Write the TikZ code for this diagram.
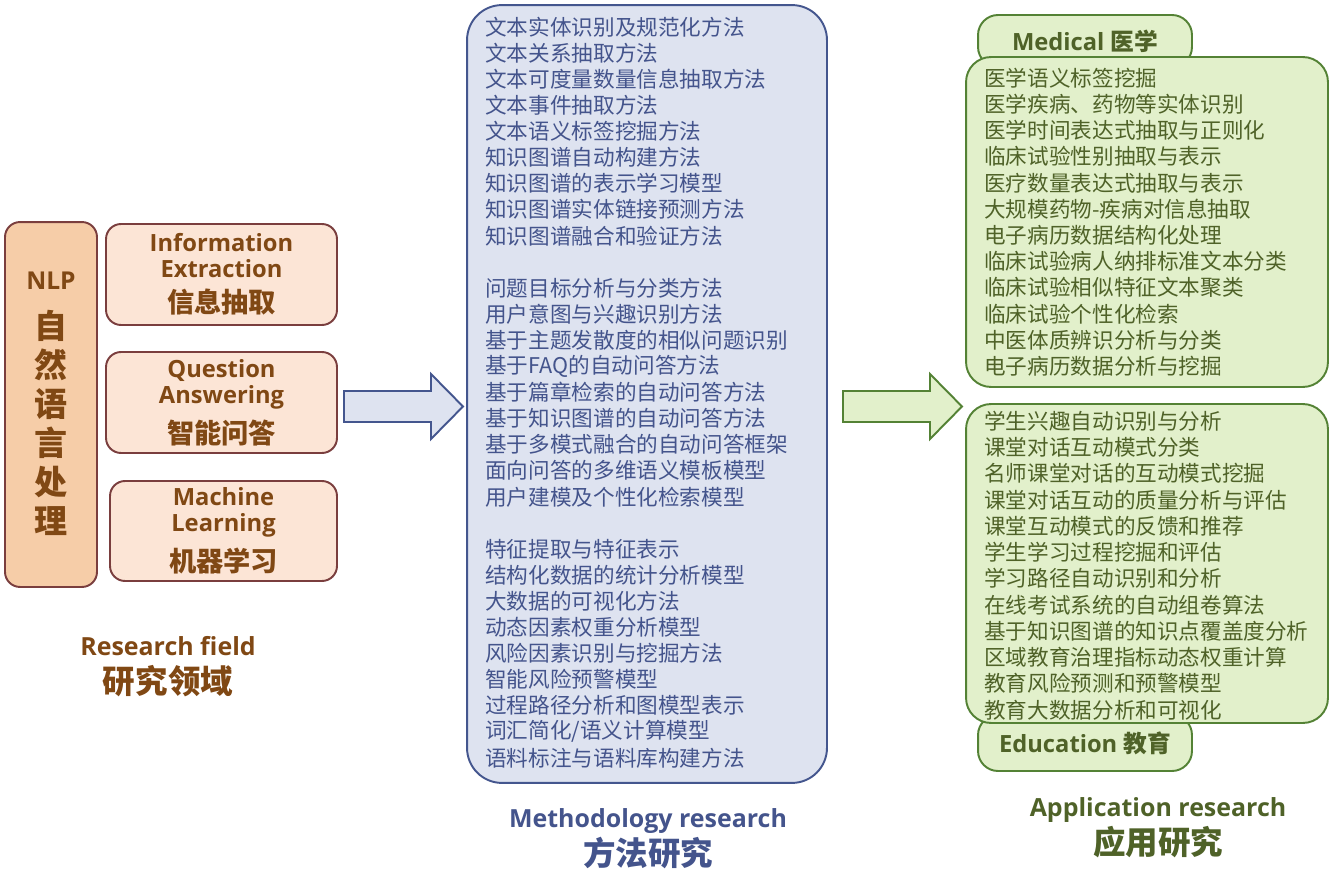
\documentclass[tikz,border=0pt]{standalone}
\usepackage{fontspec}
\setmainfont{Open Sans}
\newfontfamily\cjk{Noto Sans CJK SC}
\definecolor{fieldfill}{RGB}{252,229,214}
\definecolor{nlpfill}{RGB}{246,205,168}
\definecolor{fieldline}{RGB}{122,62,62}
\definecolor{fieldtext}{RGB}{128,72,20}
\definecolor{methodfill}{RGB}{222,227,240}
\definecolor{methodline}{RGB}{68,86,142}
\definecolor{methodtext}{RGB}{68,84,140}
\definecolor{appfill}{RGB}{226,240,203}
\definecolor{appline}{RGB}{84,130,53}
\definecolor{apptext}{RGB}{79,98,40}
\begin{document}
\begin{tikzpicture}[x=0.02cm,y=-0.02cm,
  fieldbox/.style={draw=fieldline, fill=fieldfill, line width=1.1pt, rounded corners=0.3cm,
    minimum width=4.62cm, minimum height=2.02cm, align=center, text=fieldtext,
    font=\bfseries\fontsize{13.5}{14.8}\selectfont},
  label/.style={anchor=base, inner sep=0pt, font=\bfseries\fontsize{14.2}{15}\selectfont},
  labelcn/.style={anchor=base, inner sep=0pt, font=\cjk\bfseries\fontsize{18.5}{20}\selectfont},
  methoditem/.style={anchor=west, inner sep=0pt, text=methodtext, font=\cjk\fontsize{12.3}{14}\selectfont},
  appitem/.style={anchor=west, inner sep=0pt, text=apptext, font=\cjk\fontsize{12.3}{14}\selectfont},
  appbox/.style={draw=appline, fill=appfill, line width=1.1pt, rounded corners=0.5cm,
    minimum width=7.24cm},
  apptab/.style={draw=appline, fill=appfill, line width=1.1pt, rounded corners=0.4cm,
    minimum width=4.28cm, text=apptext, font=\bfseries\fontsize{13.5}{15}\selectfont}]
  \useasboundingbox (0,0) rectangle (1335,871);

  % research field
  \node[fieldbox, fill=nlpfill, minimum width=1.84cm, minimum height=7.3cm] (nlp) at (51,404.5) {};
  \node[text=fieldtext, font=\bfseries\fontsize{14}{15}\selectfont] (nlptext) at (51,281) {NLP};
  \node[text=fieldtext, align=center, font=\cjk\bfseries\fontsize{18.8}{22.2}\selectfont] (nlpcn) at (51,423)
    {自\\然\\语\\言\\处\\理};
  \node[fieldbox] (ie) at (221.5,274.5) {Information\\Extraction\\[5pt]{\cjk\fontsize{15.5}{17}\selectfont 信息抽取}};
  \node[fieldbox] (qa) at (221.5,402.5) {Question\\Answering\\[5pt]{\cjk\fontsize{15.5}{17}\selectfont 智能问答}};
  \node[fieldbox, minimum width=4.54cm, minimum height=2cm] (ml) at (223.5,531) {Machine\\Learning\\[5pt]{\cjk\fontsize{15.5}{17}\selectfont 机器学习}};
  \node[label, text=fieldtext] (fieldlabel) at (168,655) {Research field};
  \node[labelcn, text=fieldtext] (fieldlabelcn) at (168,693) {研究领域};

  % arrows
  \draw[draw=methodline, fill=methodfill, line width=1.1pt]
    (344,391) -- (431,391) -- (431,374) -- (463,406.5) -- (431,439) -- (431,422) -- (344,422) -- cycle;
  \draw[draw=appline, fill=appfill, line width=1.1pt]
    (843,391) -- (930,391) -- (930,374) -- (962,406.5) -- (930,439) -- (930,422) -- (843,422) -- cycle;

  % methodology research
  \node[draw=methodline, fill=methodfill, line width=1.1pt, rounded corners=0.7cm,
    minimum width=7.2cm, minimum height=15.56cm] (method) at (647,394) {};
  \foreach \t [count=\i] in {文本实体识别及规范化方法, 文本关系抽取方法, 文本可度量数量信息抽取方法,
      文本事件抽取方法, 文本语义标签挖掘方法, 知识图谱自动构建方法, 知识图谱的表示学习模型,
      知识图谱实体链接预测方法, 知识图谱融合和验证方法}
    \node[methoditem] (ma\i) at (485,{27+26.1*(\i-1)}) {\t};
  \foreach \t [count=\i] in {问题目标分析与分类方法, 用户意图与兴趣识别方法, 基于主题发散度的相似问题识别,
      基于FAQ的自动问答方法, 基于篇章检索的自动问答方法, 基于知识图谱的自动问答方法,
      基于多模式融合的自动问答框架, 面向问答的多维语义模板模型, 用户建模及个性化检索模型}
    \node[methoditem] (mb\i) at (485,{288+26.1*(\i-1)}) {\t};
  \foreach \t [count=\i] in {特征提取与特征表示, 结构化数据的统计分析模型, 大数据的可视化方法,
      动态因素权重分析模型, 风险因素识别与挖掘方法, 智能风险预警模型, 过程路径分析和图模型表示,
      词汇简化/语义计算模型, 语料标注与语料库构建方法}
    \node[methoditem] (mc\i) at (485,{549+26.1*(\i-1)}) {\t};
  \node[label, text=methodtext] (methodlabel) at (648,827) {Methodology research};
  \node[labelcn, text=methodtext] (methodlabelcn) at (648,865) {方法研究};

  % application research
  \node[apptab, minimum height=1.04cm] (medtab) at (1085,41) {Medical {\cjk 医学}};
  \node[apptab, minimum height=1.12cm] (edutab) at (1085,743) {Education {\cjk 教育}};
  \node[appbox, minimum height=6.6cm] (med) at (1147,222) {};
  \node[appbox, minimum height=6.38cm] (edu) at (1147,563.5) {};
  \foreach \t [count=\i] in {医学语义标签挖掘, 医学疾病、药物等实体识别, 医学时间表达式抽取与正则化,
      临床试验性别抽取与表示, 医疗数量表达式抽取与表示, 大规模药物-疾病对信息抽取,
      电子病历数据结构化处理, 临床试验病人纳排标准文本分类, 临床试验相似特征文本聚类,
      临床试验个性化检索, 中医体质辨识分析与分类, 电子病历数据分析与挖掘}
    \node[appitem] (meditem\i) at (984,{78+26.2*(\i-1)}) {\t};
  \foreach \t [count=\i] in {学生兴趣自动识别与分析, 课堂对话互动模式分类, 名师课堂对话的互动模式挖掘,
      课堂对话互动的质量分析与评估, 课堂互动模式的反馈和推荐, 学生学习过程挖掘和评估,
      学习路径自动识别和分析, 在线考试系统的自动组卷算法, 基于知识图谱的知识点覆盖度分析,
      区域教育治理指标动态权重计算, 教育风险预测和预警模型, 教育大数据分析和可视化}
    \node[appitem] (eduitem\i) at (984,{421+26.27*(\i-1)}) {\t};
  \node[label, text=apptext] (applabel) at (1158,816) {Application research};
  \node[labelcn, text=apptext] (applabelcn) at (1158,854) {应用研究};
\end{tikzpicture}
\end{document}
